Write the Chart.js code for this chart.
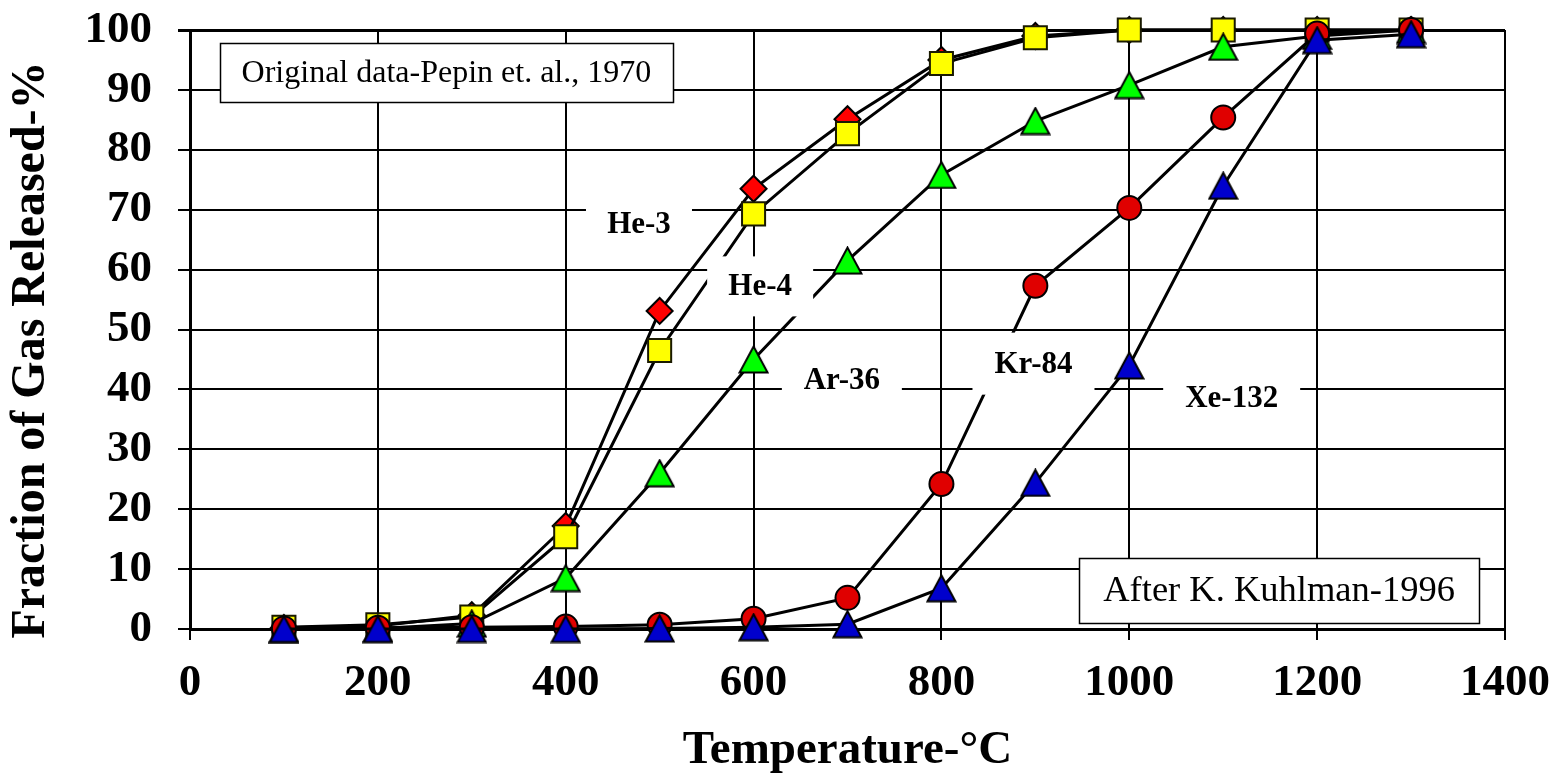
<!DOCTYPE html>
<html>
<head>
<meta charset="utf-8">
<script src="https://cdn.jsdelivr.net/npm/chart.js@4.4.1/dist/chart.umd.min.js"></script>
<style>
  html, body { margin: 0; padding: 0; background: #ffffff; }
  #wrap { width: 1560px; height: 779px; }
</style>
</head>
<body>
<div id="wrap"><canvas id="c" width="1560" height="779"></canvas></div>
<script>
// Step-heating temperatures (°C) and cumulative fraction of each gas released (%)
const temps = [100, 200, 300, 400, 500, 600, 700, 800, 900, 1000, 1100, 1200, 1300];
const he3   = [0.2, 0.5, 2.3, 17.2, 53.1, 73.5, 85.1, 95.0, 99.0, 100, 100, 100, 100];
const he4   = [0.3, 0.7, 2.0, 15.4, 46.5, 69.3, 82.7, 94.4, 98.7, 100, 100, 100, 100];
const ar36  = [0.0, 0.1, 0.9, 8.5, 26.0, 45.0, 61.5, 75.8, 84.8, 90.8, 97.2, 99.0, 100];
const kr84  = [0.1, 0.2, 0.3, 0.4, 0.7, 1.7, 5.2, 24.2, 57.3, 70.3, 85.4, 99.4, 100];
const xe132 = [0.0, 0.0, 0.0, 0.0, 0.1, 0.3, 0.8, 6.8, 24.4, 44.0, 74.0, 98.3, 99.3];

const seriesNames = ['He-3', 'He-4', 'Ar-36', 'Kr-84', 'Xe-132'];
const xTicks = [0, 200, 400, 600, 800, 1000, 1200, 1400];
const yTicks = [0, 10, 20, 30, 40, 50, 60, 70, 80, 90, 100];

const xTitle = 'Temperature-\u00B0C';
const yTitle = 'Fraction of Gas Released-%';
const noteTop = 'Original data-Pepin et. al., 1970';
const noteBottom = 'After K. Kuhlman-1996';

const SERIF = '"Liberation Serif", "Times New Roman", serif';

// Triangle marker centred on its bounding box
function triangleMarker(fill, w, h, lw) {
  const c = document.createElement('canvas');
  c.width = w; c.height = h;
  const g = c.getContext('2d');
  const m = lw / 2 + 0.5;
  g.beginPath();
  g.moveTo(w / 2, m);
  g.lineTo(w - m, h - m);
  g.lineTo(m, h - m);
  g.closePath();
  g.fillStyle = fill;
  g.fill();
  g.lineWidth = lw;
  g.lineJoin = 'miter';
  g.strokeStyle = '#000000';
  g.stroke();
  return c;
}
const greenTri = triangleMarker('#00ff00', 31, 29, 2);
const blueTri = triangleMarker('#0000cc', 31, 29, 2);

function pts(vals) { return temps.map((t, i) => ({ x: t, y: vals[i] })); }

function series(name, vals, style, fill, radius, border, order) {
  return {
    label: name,
    data: pts(vals),
    borderColor: '#000000',
    borderWidth: 3,
    tension: 0,
    pointStyle: style,
    pointRadius: radius,
    pointHoverRadius: radius,
    pointBackgroundColor: fill,
    pointBorderColor: border,
    pointBorderWidth: 2,
    clip: false,
    order: order
  };
}

// Series labels (data coordinates) with white backing boxes in pixels
const seriesTags = [
  { text: seriesNames[0], x: 478, y: 67.6, w: 106, h: 60 },
  { text: seriesNames[1], x: 607, y: 57.2, w: 106, h: 60 },
  { text: seriesNames[2], x: 694, y: 41.5, w: 120, h: 60 },
  { text: seriesNames[3], x: 898, y: 44.3, w: 122, h: 62 },
  { text: seriesNames[4], x: 1109, y: 38.5, w: 137, h: 60 }
];
const notes = [
  { text: noteTop, x: 273, y: 92.9, w: 453, h: 59, size: 32 },
  { text: noteBottom, x: 1159.5, y: 6.4, w: 400, h: 65, size: 36.5 }
];

const overlayPlugin = {
  id: 'overlay',
  afterDatasetsDraw(chart) {
    const ctx = chart.ctx;
    const xs = chart.scales.x, ys = chart.scales.y;
    ctx.save();
    ctx.textAlign = 'center';
    ctx.textBaseline = 'middle';
    seriesTags.forEach(t => {
      const cx = xs.getPixelForValue(t.x), cy = ys.getPixelForValue(t.y);
      ctx.fillStyle = '#ffffff';
      ctx.fillRect(cx - t.w / 2, cy - t.h / 2, t.w, t.h);
      ctx.fillStyle = '#000000';
      ctx.font = 'bold 31px ' + SERIF;
      ctx.fillText(t.text, cx, cy + 1);
    });
    notes.forEach(n => {
      const cx = xs.getPixelForValue(n.x), cy = ys.getPixelForValue(n.y);
      const l = Math.round(cx - n.w / 2) + 0.5, tp = Math.round(cy - n.h / 2) + 0.5;
      ctx.fillStyle = '#ffffff';
      ctx.fillRect(l, tp, n.w, n.h);
      ctx.lineWidth = 1.5;
      ctx.strokeStyle = '#000000';
      ctx.strokeRect(l, tp, n.w, n.h);
      ctx.fillStyle = '#000000';
      ctx.font = n.size + 'px ' + SERIF;
      ctx.fillText(n.text, cx, cy + 1);
    });
    ctx.restore();
  },
  afterDraw(chart) {
    // Rotated y-axis title
    const ctx = chart.ctx;
    ctx.save();
    ctx.translate(32, 350);
    ctx.rotate(-Math.PI / 2);
    ctx.textAlign = 'center';
    ctx.textBaseline = 'middle';
    ctx.fillStyle = '#000000';
    ctx.font = 'bold 48px ' + SERIF;
    ctx.fillText(yTitle, 0, 0);
    ctx.restore();
  }
};

new Chart(document.getElementById('c'), {
  type: 'line',
  data: {
    datasets: [
      series(seriesNames[0], he3, 'rectRot', '#ff0000', 13, '#000000', 5),
      series(seriesNames[1], he4, 'rect', '#ffff00', 16.3, '#1a1a00', 4),
      series(seriesNames[2], ar36, greenTri, '#00ff00', 15, '#000000', 3),
      series(seriesNames[3], kr84, 'circle', '#e00000', 12, '#000000', 2),
      series(seriesNames[4], xe132, blueTri, '#0000cc', 15, '#000000', 1)
    ]
  },
  options: {
    responsive: false,
    devicePixelRatio: 1,
    animation: false,
    events: [],
    layout: { autoPadding: false, padding: { left: 0, top: 30, right: 55, bottom: 0 } },
    plugins: {
      legend: { display: false },
      tooltip: { enabled: false },
      title: { display: false }
    },
    scales: {
      x: {
        type: 'linear',
        min: 0, max: 1400,
        afterBuildTicks: s => { s.ticks = xTicks.map(v => ({ value: v })); },
        afterFit: s => { s.height = 150; s.paddingLeft = 0; s.paddingRight = 0; },
        grid: { color: '#000000', lineWidth: 2, tickLength: 11, drawTicks: true },
        border: { color: '#000000', width: 3 },
        ticks: {
          color: '#000000',
          padding: 16,
          maxRotation: 0,
          callback: v => String(v),
          font: { family: SERIF, size: 45, weight: 'bold' }
        },
        title: {
          display: true,
          text: xTitle,
          color: '#000000',
          padding: { top: 0, bottom: 0 },
          font: { family: SERIF, size: 47, weight: 'bold' }
        }
      },
      y: {
        type: 'linear',
        min: 0, max: 100,
        afterBuildTicks: s => { s.ticks = yTicks.map(v => ({ value: v })); },
        afterFit: s => { s.width = 190; s.paddingTop = 0; s.paddingBottom = 0; },
        grid: {
          color: '#000000',
          lineWidth: c => (c.tick && c.tick.value === 100 ? 3 : 2),
          tickLength: 12,
          drawTicks: true
        },
        border: { color: '#000000', width: 3 },
        ticks: {
          color: '#000000',
          padding: 26,
          callback: v => String(v),
          font: { family: SERIF, size: 45, weight: 'bold' }
        },
        title: { display: false }
      }
    }
  },
  plugins: [overlayPlugin]
});
</script>
</body>
</html>
